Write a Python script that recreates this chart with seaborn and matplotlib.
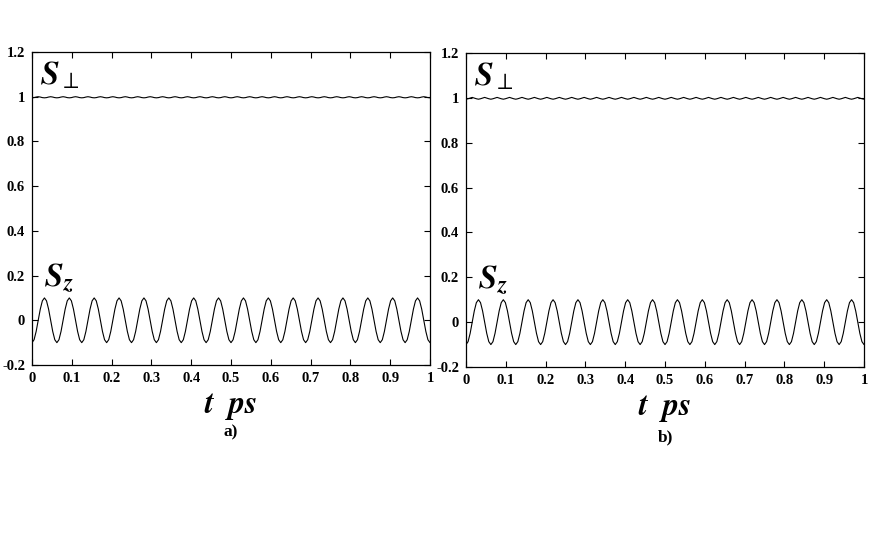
import numpy as np
import pandas as pd
import matplotlib
matplotlib.use("Agg")
import matplotlib.pyplot as plt
import seaborn as sns

# ---- data ----
# one oscillation period of S_z sampled at 12 equal steps (starts at minimum -0.1)
sz_period = [-0.1, -0.087, -0.05, 0.0, 0.05, 0.087, 0.1, 0.087, 0.05, 0.0, -0.05, -0.087]
# S_perp over the same period (small ripple just under 1)
sperp_period_a = [0.995, 0.996, 0.9985, 1.0, 0.9985, 0.996, 0.995, 0.996, 0.9985, 1.0, 0.9985, 0.996]
sperp_period_b = [0.994, 0.996, 0.999, 1.002, 0.999, 0.996, 0.994, 0.996, 0.999, 1.002, 0.999, 0.996]
n_periods = 16          # oscillations of S_z in 0..1 ps
t_start, t_end = 0.0, 1.0

x_ticks = [0, 0.1, 0.2, 0.3, 0.4, 0.5, 0.6, 0.7, 0.8, 0.9, 1]
x_ticklabels = ["0", "0.1", "0.2", "0.3", "0.4", "0.5", "0.6", "0.7", "0.8", "0.9", "1"]
y_ticks = [-0.2, 0, 0.2, 0.4, 0.6, 0.8, 1.0, 1.2]
y_ticklabels = ["-0.2", "0", "0.2", "0.4", "0.6", "0.8", "1", "1.2"]
panel_labels = ["a)", "b)"]


def build(sperp_period):
    sz = list(sz_period) * n_periods + [sz_period[0]]
    sp = list(sperp_period) * n_periods + [sperp_period[0]]
    t = np.linspace(t_start, t_end, len(sz))
    return pd.DataFrame({"t": t, "Sz": sz, "Sperp": sp})


sns.set_style("ticks")
plt.rcParams["font.family"] = ["Liberation Serif", "DejaVu Serif"]
plt.rcParams["mathtext.fontset"] = "stix"
plt.rcParams["text.color"] = "black"
plt.rcParams["xtick.color"] = "black"
plt.rcParams["ytick.color"] = "black"

fig = plt.figure(figsize=(8.72, 5.33), dpi=100)
W, H = 872, 533
boxes = [(32, 52, 430, 365), (466, 53, 864, 367)]
perps = [sperp_period_a, sperp_period_b]
xlab_y = [406, 409]
plab_y = [432, 437]

for i, (l, t, r, b) in enumerate(boxes):
    ax = fig.add_axes([l / W, 1 - b / H, (r - l) / W, (b - t) / H])
    df = build(perps[i])
    sns.lineplot(data=df, x="t", y="Sz", ax=ax, color="black", lw=0.8)
    sns.lineplot(data=df, x="t", y="Sperp", ax=ax, color="black", lw=0.8)
    ax.set_xlim(0, 1)
    ax.set_ylim(-0.2, 1.2)
    ax.set_xticks(x_ticks)
    ax.set_xticklabels(x_ticklabels, fontsize=10.5, fontweight="bold")
    ax.set_yticks(y_ticks)
    ax.set_yticklabels(y_ticklabels, fontsize=10.5, fontweight="bold")
    ax.tick_params(direction="in", top=True, right=True, length=4, width=0.8,
                   pad=5, colors="black")
    for s in ax.spines.values():
        s.set_visible(True)
        s.set_color("black")
        s.set_linewidth(0.9)
    ax.set_xlabel("")
    ax.set_ylabel("")
    ax.text(0.02, 0.925, r"$\mathbfit{S}_{\perp}$", transform=ax.transAxes,
            fontsize=24, va="center", ha="left", color="black")
    ax.text(0.03, 0.275, r"$\mathbfit{S}_{\mathbfit{z}}$", transform=ax.transAxes,
            fontsize=24, va="center", ha="left", color="black")
    cx = (l + r) / 2 / W
    fig.text(cx, 1 - xlab_y[i] / H, r"$\mathbfit{t}\ \ \mathbfit{ps}$",
             fontsize=23, ha="center", va="center", color="black")
    fig.text(cx, 1 - plab_y[i] / H, panel_labels[i], fontsize=12.5,
             fontweight="bold", ha="center", va="center", color="black")

fig.savefig("out.png", dpi=100)
